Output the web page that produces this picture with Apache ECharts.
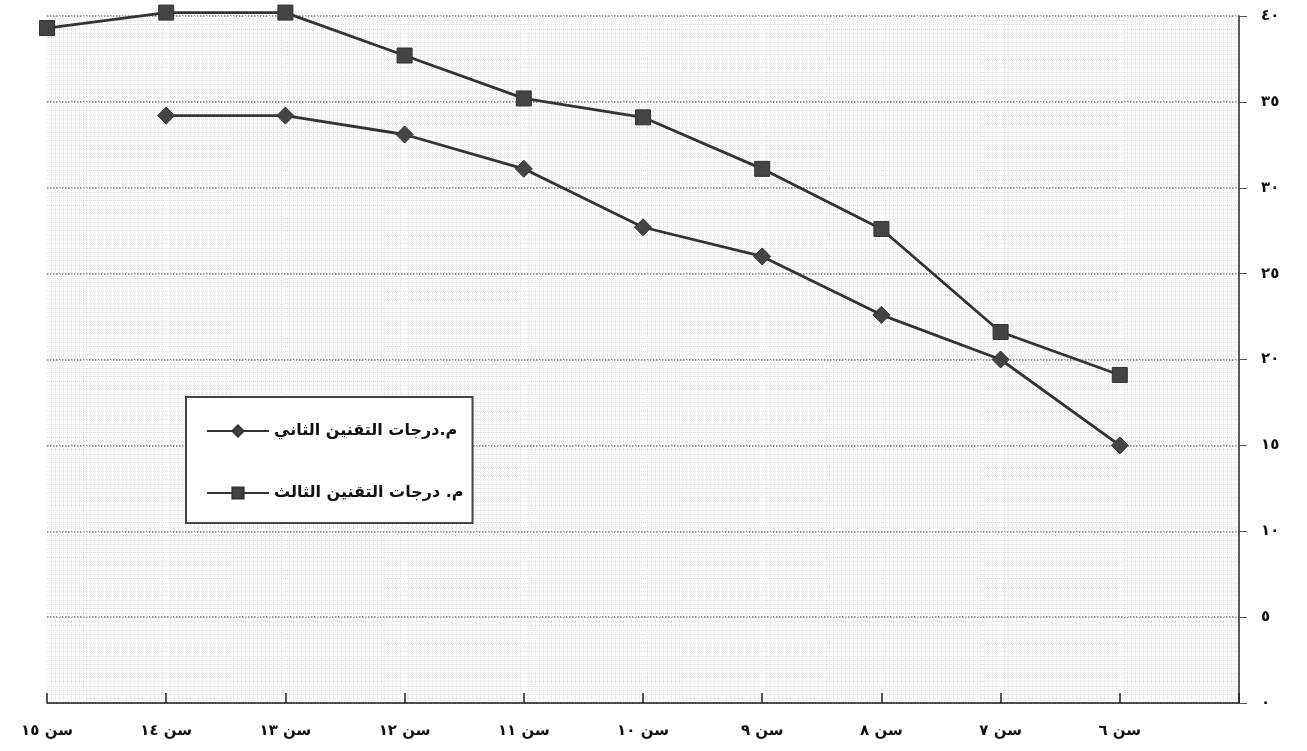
<!DOCTYPE html>
<html>
<head>
<meta charset="utf-8">
<script src="https://cdn.jsdelivr.net/npm/echarts@6/dist/echarts.min.js"></script>
<style>
html,body{margin:0;padding:0;background:#fff;}
#chart{width:1307px;height:751px;}
</style>
</head>
<body>
<div id="chart"></div>
<script>
const categories = ["سن ١٥","سن ١٤","سن ١٣","سن ١٢","سن ١١","سن ١٠","سن ٩","سن ٨","سن ٧","سن ٦",""];
const seriesNames = ["م.درجات التقنين الثاني","م. درجات التقنين الثالث"];
const secondValues = [null,34.2,34.2,33.1,31.1,27.7,26.0,22.6,20.0,15.0,null];
const thirdValues = [39.3,40.2,40.2,37.7,35.2,34.1,31.1,27.6,21.6,19.1,null];
const yTickLabels = ["٠","٥","١٠","١٥","٢٠","٢٥","٣٠","٣٥","٤٠"];

const FONT = "DejaVu Sans";
const chart = echarts.init(document.getElementById('chart'), null, {renderer:'canvas'});
chart.setOption({
  backgroundColor:'#fff',
  animation:false,
  grid:{left:47,right:68,top:16,bottom:48,show:true,backgroundColor:'#fbfbfb',borderWidth:0},
  legend:{
    show:true,
    orient:'vertical',
    left:186, top:397,
    padding:[26,9,22,20],
    itemGap:46,
    itemWidth:62, itemHeight:14,
    borderColor:'#444', borderWidth:2, backgroundColor:'#fff',
    textStyle:{fontFamily:FONT,fontSize:16,fontWeight:'bold',color:'#111'},
    data:seriesNames
  },
  xAxis:[{
    type:'category',
    data:categories,
    boundaryGap:false,
    axisLine:{lineStyle:{color:'#222',width:1.5}},
    axisTick:{inside:true,length:10,lineStyle:{color:'#222',width:1.5}},
    axisLabel:{fontFamily:FONT,fontSize:15,fontWeight:'bold',color:'#111',margin:21},
    splitLine:{show:false}
  },{
    type:'value',min:0,max:10,interval:1,
    axisLine:{show:false},axisTick:{show:false},axisLabel:{show:false},
    splitLine:{show:false},
    minorTick:{show:false,splitNumber:30},
    minorSplitLine:{show:true,lineStyle:{color:'#e3e3e3',type:'dotted',width:1}}
  }],
  yAxis:{
    type:'value',position:'right',min:0,max:40,interval:5,
    axisLine:{show:true,onZero:false,lineStyle:{color:'#222',width:1.5}},
    axisTick:{show:true,length:8,lineStyle:{color:'#555'}},
    axisLabel:{fontFamily:FONT,fontSize:15,fontWeight:'bold',color:'#111',margin:22,
      formatter:function(v){return yTickLabels[Math.round(v/5)];}},
    splitLine:{show:true,lineStyle:{color:'#777',type:'dotted',width:1.5}},
    minorTick:{show:false,splitNumber:20},
    minorSplitLine:{show:true,lineStyle:{color:'#e3e3e3',type:'dotted',width:1}}
  },
  series:[{
    name:seriesNames[0],type:'line',data:secondValues,xAxisIndex:0,clip:false,
    symbol:'diamond',symbolSize:17,
    lineStyle:{color:'#333',width:2.8},
    itemStyle:{color:'#444',borderColor:'#333',borderWidth:1}
  },{
    name:seriesNames[1],type:'line',data:thirdValues,xAxisIndex:0,clip:false,
    symbol:'rect',symbolSize:15,
    lineStyle:{color:'#333',width:2.8},
    itemStyle:{color:'#444',borderColor:'#333',borderWidth:1}
  }]
});
</script>
</body>
</html>
